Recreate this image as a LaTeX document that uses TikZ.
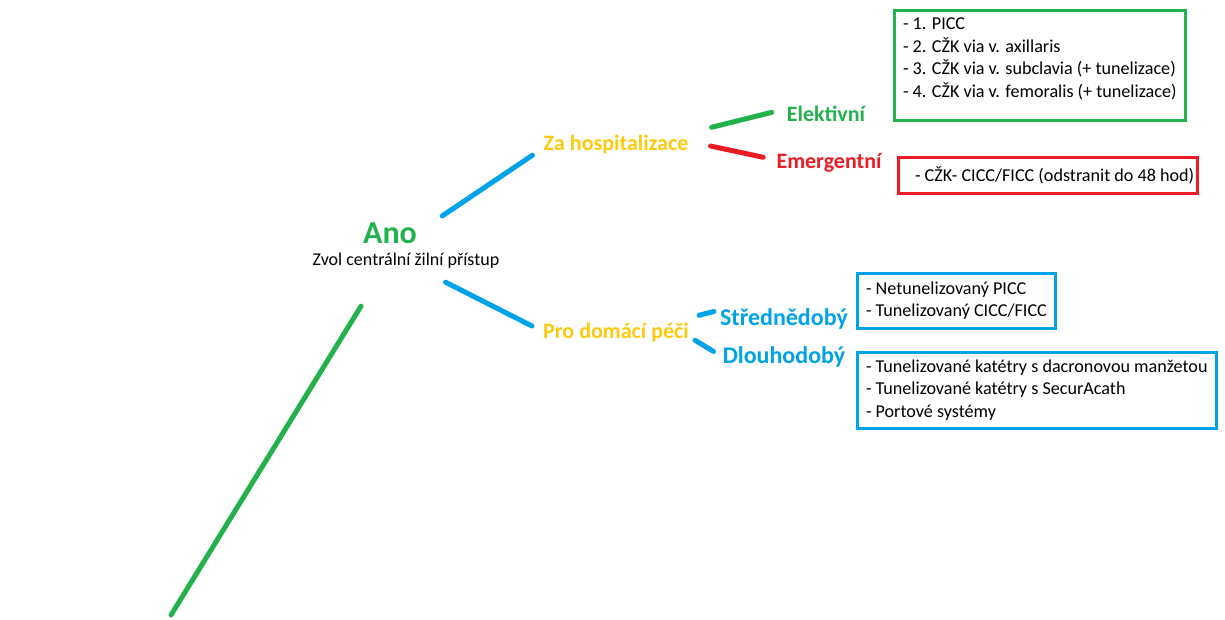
\documentclass[tikz,border=0pt]{standalone}
\usepackage{fontspec}
\setmainfont{Carlito}
\usepackage{tikz}
\usepackage{color}
\usetikzlibrary{calc}

\definecolor{pgreen}{RGB}{34,177,76}
\definecolor{pred}{RGB}{237,28,36}
\definecolor{pblue}{RGB}{0,162,232}
\definecolor{pgold}{RGB}{255,201,14}

\begin{document}
\begin{tikzpicture}[x=0.75pt,y=0.75pt,yscale=-1,xscale=1,
  lbl/.style={anchor=base, inner sep=0pt, font=\fontsize{16.5}{19}\selectfont\bfseries},
  conn/.style={line width=3.75pt, line cap=round},
  infobox/.style={draw, line width=2.25pt, anchor=north west, align=left, outer sep=0pt, inner xsep=6.75pt, inner ysep=0pt, font=\fontsize{13.6}{17}\selectfont}]
 \useasboundingbox (0,0) rectangle (1225,619);

 \draw (390,243) node [lbl, pgreen, font=\fontsize{24}{28}\selectfont\bfseries] (ano) {Ano};
 \draw (406,265) node [anchor=base, inner sep=0pt, font=\fontsize{13.5}{16}\selectfont] (zvol) {Zvol centrální žilní přístup};
 \draw (616,150) node [lbl, pgold] (zahosp) {Za hospitalizace};
 \draw (616,338) node [lbl, pgold] (prodom) {Pro domácí péči};
 \draw (826,121) node [lbl, pgreen] (elektiv) {Elektivní};
 \draw (829,168) node [lbl, pred] (emerg) {Emergentní};
 \draw (784,325) node [lbl, pblue, font=\fontsize{18}{21}\selectfont\bfseries] (stredne) {Střednědobý};
 \draw (784,363) node [lbl, pblue, font=\fontsize{18}{21}\selectfont\bfseries] (dlouho) {Dlouhodobý};

 \draw (894,10) node [infobox, draw=pgreen, minimum height=82.5pt] (gbox) {- 1. PICC\\- 2. CŽK via v. axillaris\\- 3. CŽK via v. subclavia (+ tunelizace)\\- 4. CŽK via v. femoralis (+ tunelizace)\\[-6pt]\mbox{}};
 \draw (898,157) node [infobox, draw=pred, minimum height=27pt, inner xsep=2.25pt] (rbox) {\hspace*{10.5pt}- CŽK- CICC/FICC (odstranit do 48 hod)};
 \draw (857,273) node [infobox, draw=pblue, minimum height=41.25pt] (sbox) {- Netunelizovaný PICC\\- Tunelizovaný CICC/FICC};
 \draw (857,352) node [infobox, draw=pblue, minimum height=57pt] (dbox) {- Tunelizované katétry s dacronovou manžetou\\- Tunelizované katétry s SecurAcath\\- Portové systémy};

 \coordinate (root) at (171,615);
 \draw [conn, pgreen] (root) -- ($(zvol.south)+(-45,38)$);
 \draw [conn, pblue] ($(ano.north east)+(25,-6)$) -- ($(zahosp.south west)+(-11,1.5)$);
 \draw [conn, pblue] ($(zvol.south east)+(-54,14)$) -- ($(prodom.west)+(-11,-6)$);
 \draw [conn, pgreen] ($(zahosp.north east)+(23,-7)$) -- ($(elektiv.west)+(-15,-1)$);
 \draw [conn, pred] ($(zahosp.east)+(22,2)$) -- ($(emerg.west)+(-13,-5)$);
 \draw [conn, pblue] ($(prodom.north east)+(10,-7)$) -- ($(stredne.west)+(-6,-7)$);
 \draw [conn, pblue] ($(prodom.south east)+(6,-1.5)$) -- ($(dlouho.west)+(-9,-5)$);
\end{tikzpicture}
\end{document}
